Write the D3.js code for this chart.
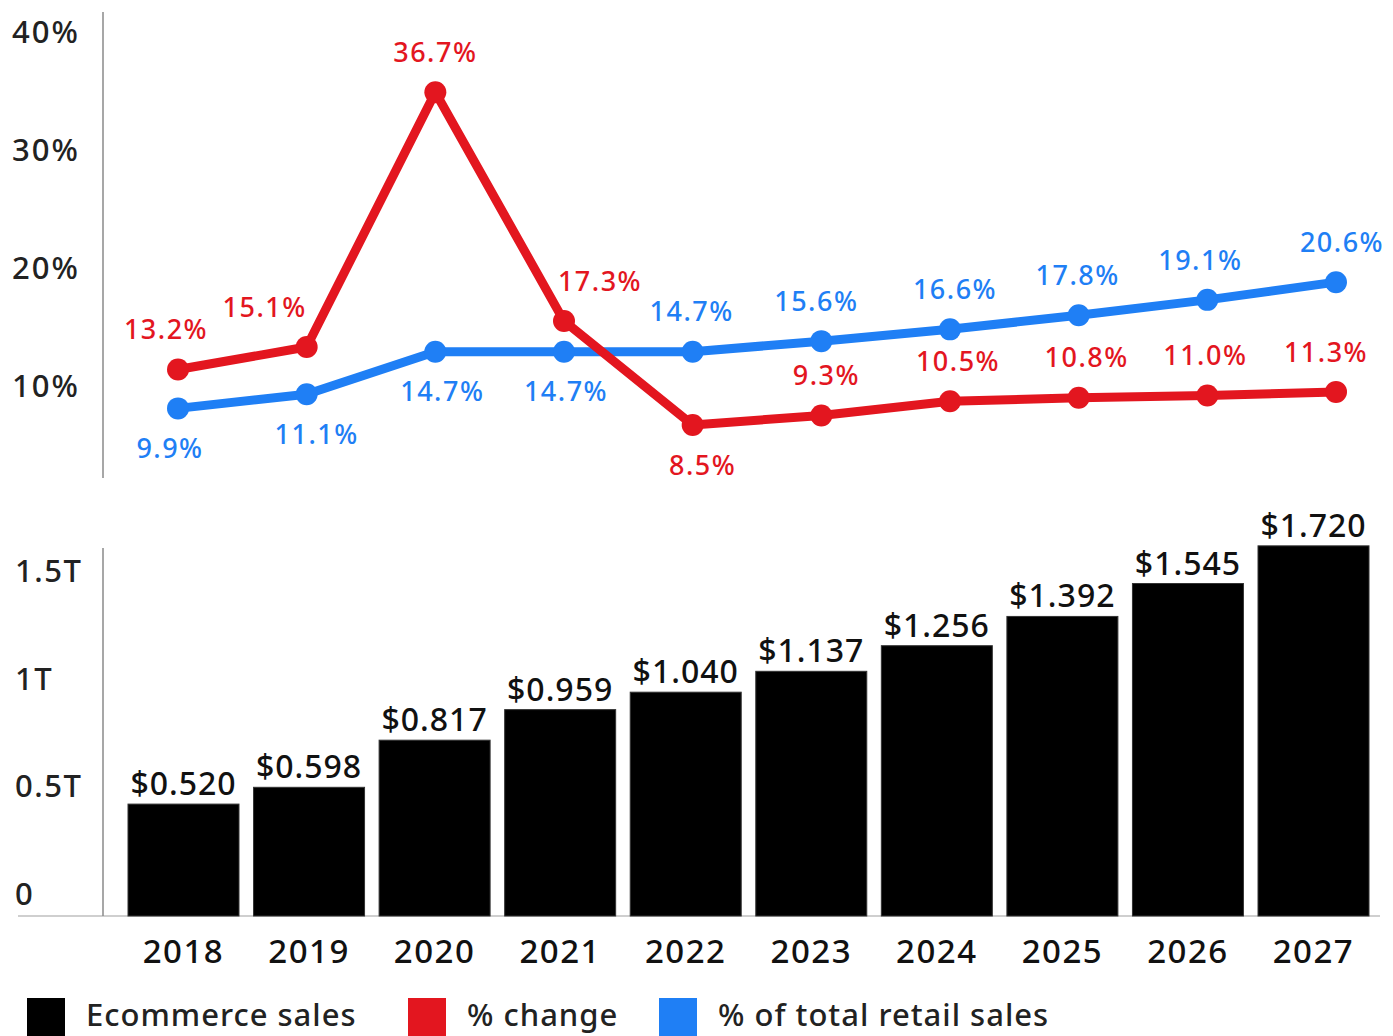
<!DOCTYPE html>
<html>
<head>
<meta charset="utf-8">
<script src="https://cdn.jsdelivr.net/npm/d3@7"></script>
<style>
  body { margin: 0; background: #fff; }
  text { font-family: "Noto Sans", sans-serif; font-weight: 500; }
</style>
</head>
<body>
<script>
// data
var years = ["2018", "2019", "2020", "2021", "2022", "2023", "2024", "2025", "2026", "2027"];
var sales = [0.520, 0.598, 0.817, 0.959, 1.040, 1.137, 1.256, 1.392, 1.545, 1.720];   // trillions
var pctChange = [13.2, 15.1, 36.7, 17.3, 8.5, 9.3, 10.5, 10.8, 11.0, 11.3];
var pctRetail = [9.9, 11.1, 14.7, 14.7, 14.7, 15.6, 16.6, 17.8, 19.1, 20.6];
var pctTicks = [10, 20, 30, 40];
var salesTicks = [0, 0.5, 1, 1.5];
var salesTickLabels = ["0", "0.5T", "1T", "1.5T"];

// label placement for the line values: +1 below the dot, -1 above, plus a sideways nudge
var changeSide = [-1, -1, -1, -1, 1, -1, -1, -1, -1, -1];
var changeNudge = [-12, -42, 0, 36, 10, 5, 8, 8, -2, -10];
var retailSide = [1, 1, 1, 1, -1, -1, -1, -1, -1, -1];
var retailNudge = [-8, 10, 7, 2, -1, -5, 5, -1, -7, 6];

var red = "#e3161f", blue = "#1f7ff5";

var width = 1393, height = 1036;

var svg = d3.select("body").append("svg")
    .attr("width", width)
    .attr("height", height);

// ---------- top: line chart ----------
var x = d3.scalePoint().domain(years).range([178, 1336]);
var y = d3.scaleLinear().domain([4, 43.5]).range([478, 12]);

svg.append("line")
    .attr("x1", 103).attr("x2", 103)
    .attr("y1", y(43.5)).attr("y2", y(4))
    .attr("stroke", "#8a8a8a").attr("stroke-width", 1.5);

svg.append("g").selectAll("text")
    .data(pctTicks)
    .enter().append("text")
    .attr("x", 12)
    .attr("y", function(d) { return y(d) - 10; })
    .attr("font-size", 31)
    .attr("letter-spacing", 2)
    .attr("fill", "#222")
    .text(function(d) { return d + "%"; });

function drawSeries(values, color, side, nudge) {
  var pts = values.map(function(v, i) { return { year: years[i], v: v, i: i }; });
  var line = d3.line()
      .x(function(d) { return x(d.year); })
      .y(function(d) { return y(d.v); });
  svg.append("path")
      .datum(pts)
      .attr("fill", "none")
      .attr("stroke", color)
      .attr("stroke-width", 9)
      .attr("stroke-linejoin", "round")
      .attr("d", line);
  svg.append("g").selectAll("circle")
      .data(pts)
      .enter().append("circle")
      .attr("cx", function(d) { return x(d.year); })
      .attr("cy", function(d) { return y(d.v); })
      .attr("r", 11)
      .attr("fill", color);
  svg.append("g").selectAll("text")
      .data(pts)
      .enter().append("text")
      .attr("x", function(d) { return x(d.year) + nudge[d.i]; })
      .attr("y", function(d) { return y(d.v) + side[d.i] * 40; })
      .attr("dy", "0.36em")
      .attr("text-anchor", "middle")
      .attr("font-size", 27)
      .attr("letter-spacing", 1.5)
      .attr("fill", color)
      .text(function(d) { return d.v.toFixed(1) + "%"; });
}

drawSeries(pctRetail, blue, retailSide, retailNudge);
drawSeries(pctChange, red, changeSide, changeNudge);

// ---------- bottom: bar chart ----------
var xb = d3.scaleBand().domain(years).range([128, 1369]).paddingInner(0.116).paddingOuter(0);
var yb = d3.scaleLinear().domain([0, 1.71]).range([916, 548]);

svg.append("line")
    .attr("x1", 18).attr("x2", 1380)
    .attr("y1", yb(0)).attr("y2", yb(0))
    .attr("stroke", "#cfcfcf").attr("stroke-width", 2);

svg.append("line")
    .attr("x1", 103).attr("x2", 103)
    .attr("y1", yb(1.71)).attr("y2", yb(0))
    .attr("stroke", "#8a8a8a").attr("stroke-width", 1.5);

svg.append("g").selectAll("text")
    .data(salesTicks)
    .enter().append("text")
    .attr("x", 15)
    .attr("y", function(d) { return yb(d) - 11; })
    .attr("font-size", 31)
    .attr("letter-spacing", 1.5)
    .attr("fill", "#222")
    .text(function(d, i) { return salesTickLabels[i]; });

svg.append("g").selectAll("rect")
    .data(sales)
    .enter().append("rect")
    .attr("x", function(d, i) { return xb(years[i]); })
    .attr("y", function(d) { return yb(d); })
    .attr("width", xb.bandwidth())
    .attr("height", function(d) { return yb(0) - yb(d); })
    .attr("fill", "#000")
    .attr("stroke", "#333")
    .attr("stroke-width", 1);

svg.append("g").selectAll("text")
    .data(sales)
    .enter().append("text")
    .attr("x", function(d, i) { return xb(years[i]) + xb.bandwidth() / 2; })
    .attr("y", function(d) { return yb(d) - 9; })
    .attr("text-anchor", "middle")
    .attr("font-size", 32)
    .attr("letter-spacing", 1)
    .attr("fill", "#111")
    .text(function(d) { return "$" + d.toFixed(3); });

svg.append("g").selectAll("text")
    .data(years)
    .enter().append("text")
    .attr("x", function(d) { return xb(d) + xb.bandwidth() / 2; })
    .attr("y", 963)
    .attr("text-anchor", "middle")
    .attr("font-size", 33)
    .attr("letter-spacing", 1.5)
    .attr("fill", "#111")
    .text(function(d) { return d; });

// ---------- legend ----------
var legendItems = [
  { label: "Ecommerce sales", color: "#000", x: 27 },
  { label: "% change", color: red, x: 408 },
  { label: "% of total retail sales", color: blue, x: 659 }
];

var legend = svg.append("g").selectAll("g")
    .data(legendItems)
    .enter().append("g")
    .attr("transform", function(d) { return "translate(" + d.x + ",998)"; });

legend.append("rect")
    .attr("width", 38).attr("height", 40)
    .attr("fill", function(d) { return d.color; });

legend.append("text")
    .attr("x", 59)
    .attr("y", 28)
    .attr("font-size", 31)
    .attr("letter-spacing", 1)
    .attr("fill", "#222")
    .text(function(d) { return d.label; });
</script>
</body>
</html>
